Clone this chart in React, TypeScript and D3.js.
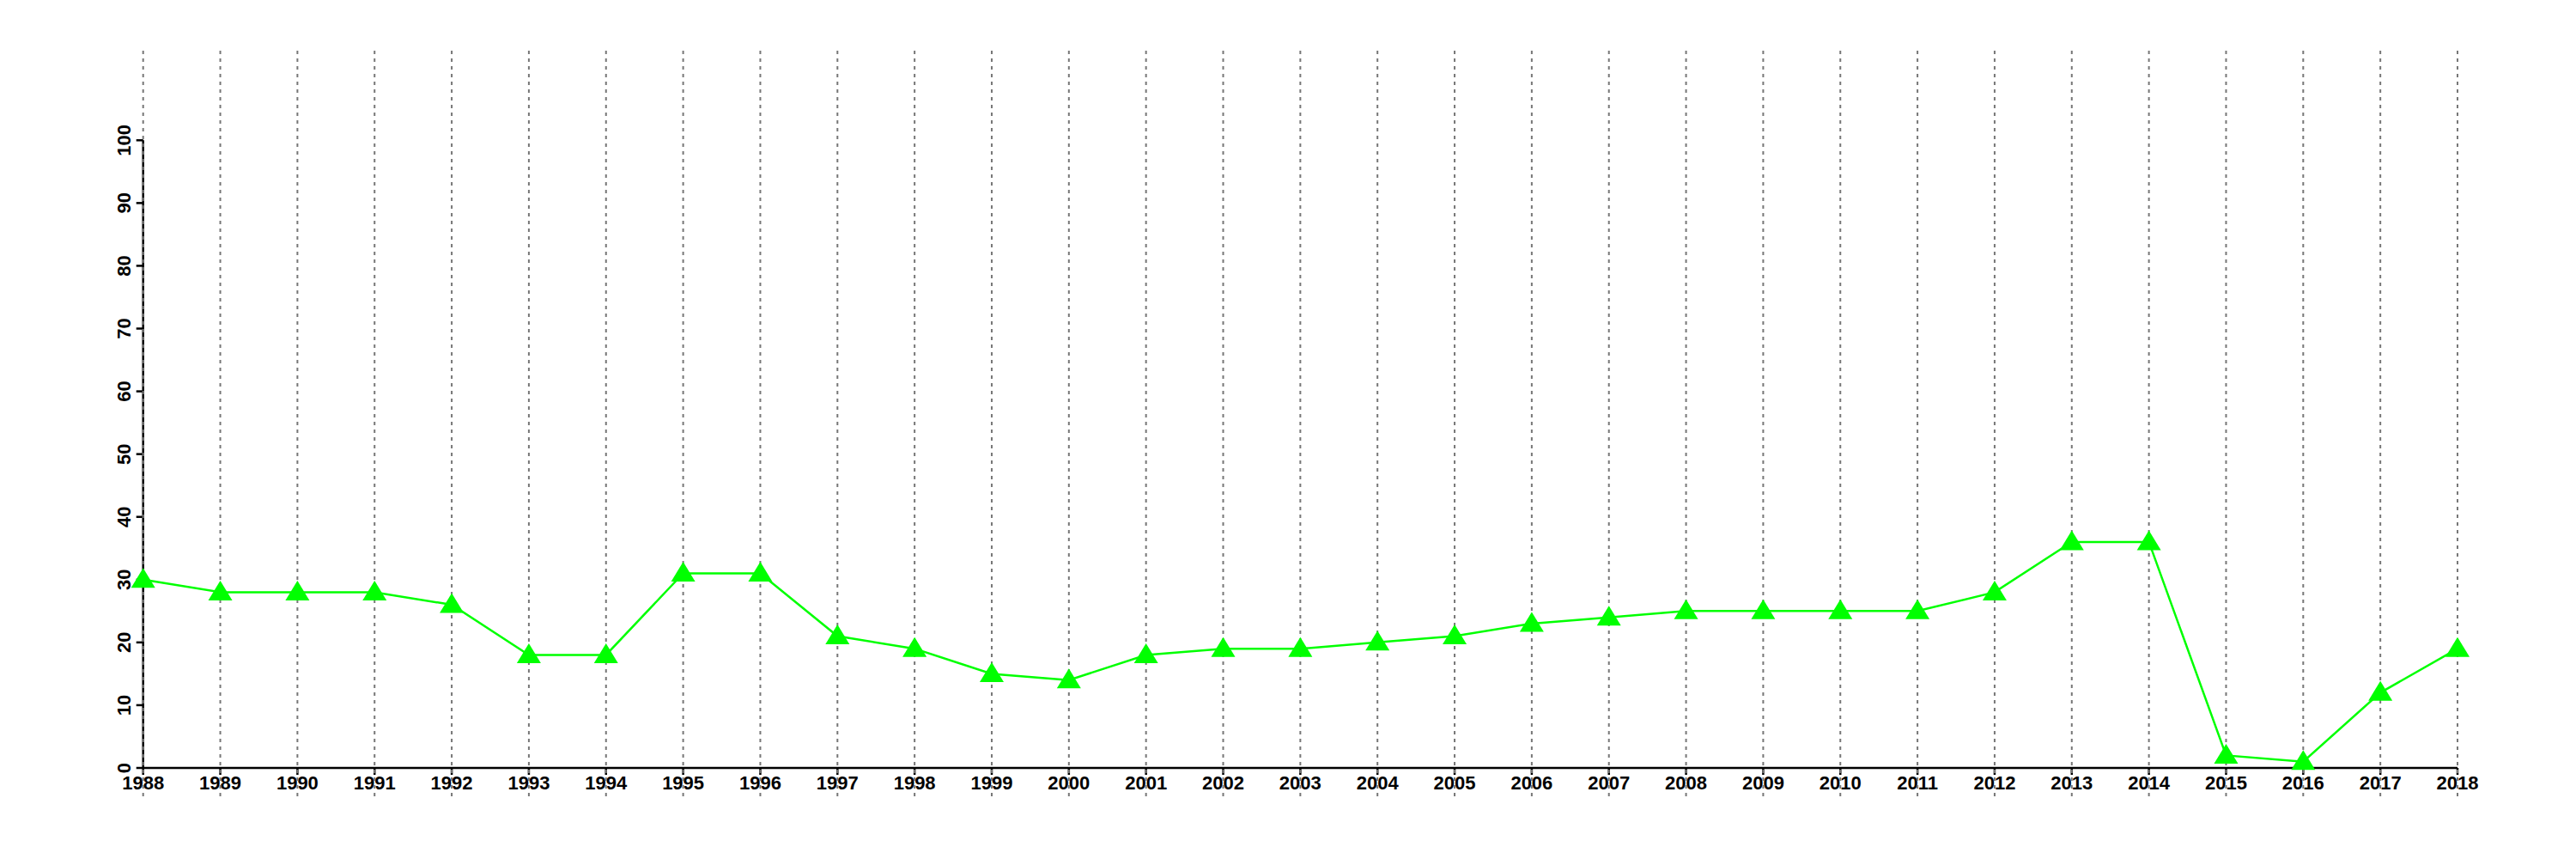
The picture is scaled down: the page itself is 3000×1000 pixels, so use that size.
import React from "react";
import * as d3 from "d3";

const years: number[] = [1988,1989,1990,1991,1992,1993,1994,1995,1996,1997,1998,1999,2000,2001,2002,2003,2004,2005,2006,2007,2008,2009,2010,2011,2012,2013,2014,2015,2016,2017,2018];
const values: number[] = [30,28,28,28,26,18,18,31,31,21,19,15,14,18,19,19,20,21,23,24,25,25,25,25,28,36,36,2,1,12,19];
const yTicks: number[] = [0,10,20,30,40,50,60,70,80,90,100];

const W = 3000, H = 1000;
const x0 = 166.7, x1 = 2862;
const yBottom = 894, yTop = 163.3;

export default function App() {
  const x = d3.scaleLinear().domain([1988, 2018]).range([x0, x1]);
  const y = d3.scaleLinear().domain([0, 100]).range([yBottom, yTop]);
  const line = d3.line<number>().x((_, i) => x(years[i])).y((d) => y(d));
  const font = "'Liberation Sans', Arial, Helvetica, sans-serif";
  const tri = (cx: number, cy: number) =>
    `M${cx},${cy - 13.5} L${cx + 14},${cy + 9.5} L${cx - 14},${cy + 9.5} Z`;
  return (
    <svg width={W} height={H} style={{ position: "absolute", left: 0, top: 0, background: "#fff" }}>
      <rect x={0} y={0} width={W} height={H} fill="#fff" />
      <line x1={x(1988)} x2={x(2018)} y1={yBottom} y2={yBottom} stroke="#000" strokeWidth={2.5} />
      <line x1={x0} x2={x0} y1={yBottom} y2={yTop} stroke="#000" strokeWidth={2.5} />
      {years.map((yr) => (
        <line key={"xt" + yr} x1={x(yr)} x2={x(yr)} y1={yBottom} y2={yBottom + 8} stroke="#000" strokeWidth={2.5} />
      ))}
      {yTicks.map((t) => (
        <line key={"yt" + t} x1={x0} x2={x0 - 8} y1={y(t)} y2={y(t)} stroke="#000" strokeWidth={2.5} />
      ))}
      {years.map((yr) => (
        <text key={"xl" + yr} x={x(yr)} y={919} textAnchor="middle" fontFamily={font} fontWeight="bold" fontSize={22} fill="#000">
          {yr}
        </text>
      ))}
      {yTicks.map((t) => (
        <text key={"yl" + t} transform={`translate(152,${y(t)}) rotate(-90)`} textAnchor="middle" fontFamily={font} fontWeight="bold" fontSize={22} fill="#000">
          {t}
        </text>
      ))}
      {years.map((yr) => (
        <line key={"g" + yr} x1={x(yr)} x2={x(yr)} y1={59} y2={928} stroke="#777" strokeWidth={2} strokeDasharray="4,5" />
      ))}
      <path d={line(values) || ""} fill="none" stroke="#00ff00" strokeWidth={2.5} />
      {values.map((v, i) => (
        <path key={"m" + i} d={tri(x(years[i]), y(v))} fill="#00ff00" />
      ))}
    </svg>
  );
}
